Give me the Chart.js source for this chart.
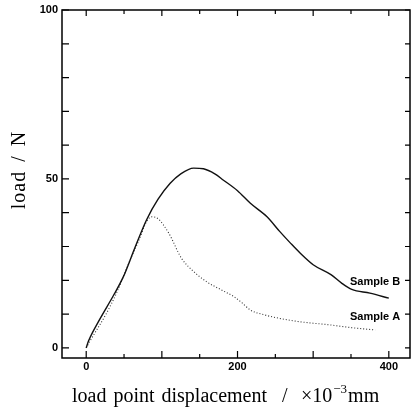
<!DOCTYPE html>
<html>
<head>
<meta charset="utf-8">
<script src="https://cdn.jsdelivr.net/npm/chart.js@4.4.0/dist/chart.umd.min.js"></script>
<style>
  html, body { margin: 0; padding: 0; background: #fff; }
  #wrap { width: 415px; height: 410px; }
</style>
</head>
<body>
<div id="wrap"><canvas id="grafico" width="415" height="410"></canvas></div>
<script>
// datos (x: desplazamiento x10^-3 mm, y: carga N)
const sampleBx = [0, 3, 18, 36, 49, 65, 80, 95, 111, 125, 142, 155, 170, 181, 200, 217, 239, 256, 270, 283, 300, 324, 338, 351, 375, 400];
const sampleBy = [0, 2, 8.5, 15.5, 21, 30, 38, 44, 48.7, 51.5, 53.2, 53, 51.5, 49.7, 46.5, 42.8, 38.8, 34.4, 31, 28, 24.6, 21.6, 19.1, 17.3, 16.2, 14.7];
const sampleAx = [0, 5, 27, 40, 58, 70, 80, 87, 95, 109, 126, 140, 159, 180, 195, 205, 217, 235, 254, 280, 322, 350, 382];
const sampleAy = [0, 2, 10.3, 16.2, 26, 32, 37.5, 38.8, 38.2, 34, 26.5, 23, 19.6, 17, 15.2, 13.5, 11.2, 9.8, 8.8, 7.8, 6.8, 6, 5.3];

const xTickLabels = [0, 200, 400];
const xMajorTicks = [0, 100, 200, 300, 400];
const xMinorTicks = [50, 150, 250, 350];
const yTickLabels = [0, 50, 100];
const yTicks = [0, 10, 20, 30, 40, 50, 60, 70, 80, 90, 100];

const labelB = { text: 'Sample B', x: 415, y: 19.5 };
const labelA = { text: 'Sample A', x: 415, y: 9 };

function toPoints(xs, ys) {
    return xs.map((x, i) => ({ x: x, y: ys[i] }));
}

//Plugin para marco, ticks hacia adentro y textos
const ejesPlugin = {
    id: 'ejes',
    afterDraw(chart) {
        const ctx = chart.ctx;
        const xs = chart.scales.x;
        const ys = chart.scales.y;
        const a = chart.chartArea;
        ctx.save();
        ctx.strokeStyle = '#000';
        ctx.lineWidth = 1.5;
        ctx.strokeRect(a.left, a.top, a.right - a.left, a.bottom - a.top);

        ctx.lineWidth = 1.2;
        ctx.beginPath();
        xMajorTicks.forEach(v => {
            const px = xs.getPixelForValue(v);
            ctx.moveTo(px, a.bottom); ctx.lineTo(px, a.bottom - 7);
            ctx.moveTo(px, a.top); ctx.lineTo(px, a.top + 6);
        });
        xMinorTicks.forEach(v => {
            const px = xs.getPixelForValue(v);
            ctx.moveTo(px, a.bottom); ctx.lineTo(px, a.bottom - 4);
            ctx.moveTo(px, a.top); ctx.lineTo(px, a.top + 4);
        });
        yTicks.forEach(v => {
            const py = ys.getPixelForValue(v);
            ctx.moveTo(a.left, py); ctx.lineTo(a.left + 7, py);
            ctx.moveTo(a.right, py); ctx.lineTo(a.right - 5, py);
        });
        ctx.stroke();

        ctx.fillStyle = '#000';
        ctx.font = 'bold 11px "Liberation Sans", Arial, sans-serif';
        ctx.textAlign = 'center';
        ctx.textBaseline = 'middle';
        xTickLabels.forEach(v => {
            ctx.fillText(String(v), xs.getPixelForValue(v), a.bottom + 9);
        });
        ctx.textAlign = 'right';
        yTickLabels.forEach(v => {
            ctx.fillText(String(v), a.left - 4, ys.getPixelForValue(v));
        });

        [labelB, labelA].forEach(l => {
            ctx.fillText(l.text, xs.getPixelForValue(l.x), ys.getPixelForValue(l.y));
        });

        // titulos de ejes
        const serif = '"Liberation Serif", "Times New Roman", serif';
        const yb = 402;
        ctx.textBaseline = 'alphabetic';
        ctx.textAlign = 'left';
        ctx.font = '20px ' + serif;
        const frase = 'load point displacement';
        const nat = ctx.measureText(frase).width;
        ctx.wordSpacing = Math.max(0, (195 - nat) / 2) + 'px';
        ctx.fillText(frase, 72, yb);
        ctx.wordSpacing = '0px';
        ctx.fillText('/', 282, yb);
        ctx.fillText('\u00d710', 301, yb);
        const w10 = ctx.measureText('\u00d710').width;
        ctx.font = '13px ' + serif;
        ctx.fillText('\u22123', 301 + w10 + 1, yb - 9);
        const w3 = ctx.measureText('\u22123').width;
        ctx.font = '20px ' + serif;
        ctx.fillText('mm', 301 + w10 + w3 + 2, yb);

        ctx.wordSpacing = '3px';
        ctx.letterSpacing = '1px';
        ctx.translate(20, 170);
        ctx.rotate(-Math.PI / 2);
        ctx.textAlign = 'center';
        ctx.textBaseline = 'middle';
        ctx.fillText('load / N', 0, 0);
        ctx.restore();
    }
};

const ctx = document.getElementById('grafico').getContext('2d');
new Chart(ctx, {
    type: 'scatter',
    data: {
        datasets: [
            {
                label: 'Sample B',
                data: toPoints(sampleBx, sampleBy),
                showLine: true,
                borderColor: '#111',
                borderWidth: 1.4,
                pointRadius: 0,
                cubicInterpolationMode: 'monotone'
            },
            {
                label: 'Sample A',
                data: toPoints(sampleAx, sampleAy),
                showLine: true,
                borderColor: '#333',
                borderWidth: 1.1,
                borderDash: [1, 2],
                pointRadius: 0,
                cubicInterpolationMode: 'monotone'
            }
        ]
    },
    options: {
        responsive: false,
        animation: false,
        layout: { padding: { left: 62, right: 5, top: 10, bottom: 52 } },
        plugins: { legend: { display: false }, tooltip: { enabled: false } },
        scales: {
            x: { type: 'linear', min: -32, max: 428, display: false },
            y: { type: 'linear', min: -3, max: 100, display: false }
        }
    },
    plugins: [ejesPlugin]
});
</script>
</body>
</html>
